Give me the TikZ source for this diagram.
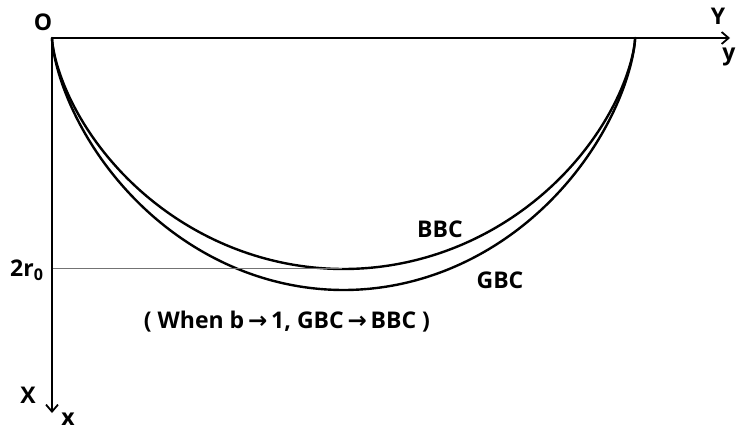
\documentclass[tikz,border=0pt]{standalone}
\usepackage{fontspec}
\setmainfont{Open Sans}[BoldFont={Open Sans Bold}]
\newfontfamily\arrfont{DejaVu Sans}[BoldFont={DejaVu Sans Bold}]
\usetikzlibrary{arrows.meta}
\begin{document}
\begin{tikzpicture}[x=1pt,y=-1pt,
  lbl/.style={font=\fontsize{23}{25}\selectfont\bfseries, inner sep=0pt, anchor=center},
  axis/.style={line width=2pt, -{Straight Barb[length=7pt,width=12pt,line width=1.8pt]}},
  curve/.style={line width=2.4pt, line cap=round},
  guide/.style={line width=1pt, draw=black!55}]
\path[use as bounding box, fill=white] (0,0) rectangle (736,430);
\coordinate (O) at (52,38);
\coordinate (Yend) at (730,38);
\coordinate (Xend) at (52,413);
\coordinate (R0) at (52,269);
\coordinate (R0end) at (342,269);
% curves
\draw[curve] plot[domain=0:6.2832, samples=120, variable=\t, smooth]
  ({52+92.8*(\t-sin(\t r))},{38+115.5*(1-cos(\t r))});
\draw[curve] plot[domain=0:6.2832, samples=120, variable=\t, smooth]
  ({52+92.8*(\t-sin(\t r))},{38+126*(1-cos(\t r))});
\draw[guide] (R0) -- (R0end);
\draw[axis] (O) -- (Yend);
\draw[axis] (O) -- (Xend);
\node[lbl] (Olbl) at (43,22) {O};
\node[lbl] (Ylbl) at (718,16) {Y};
\node[lbl] (ylbl) at (729,57) {y};
\node[lbl] (Xlbl) at (28,395) {X};
\node[lbl] (xlbl) at (68,419) {x};
\node[lbl, anchor=base west] (r0lbl) at (10,277) {2r\textsubscript{0}};
\node[lbl] (bbc) at (440,229) {BBC};
\node[lbl] (gbc) at (500,280) {GBC};
\node[lbl] (cap) at (287,322) {( When b\,{\arrfont\bfseries →}\,1, GBC\,{\arrfont\bfseries →}\,BBC )};
\end{tikzpicture}
\end{document}
